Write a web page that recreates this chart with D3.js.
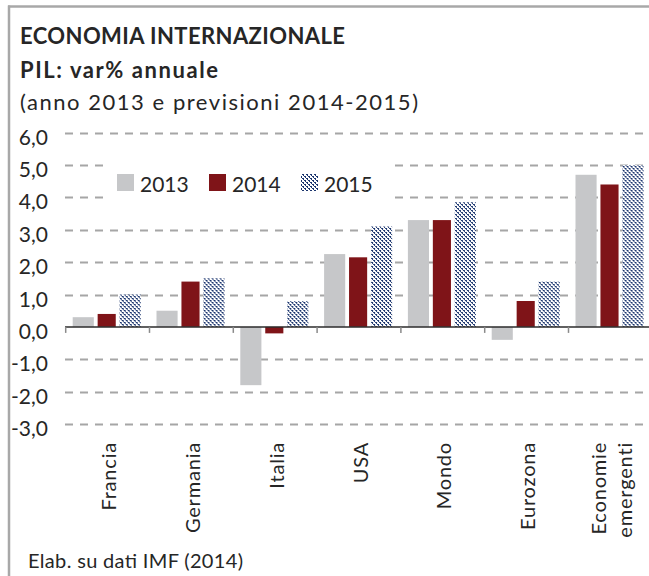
<!DOCTYPE html>
<html>
<head>
<meta charset="utf-8">
<script src="https://cdn.jsdelivr.net/npm/d3@7"></script>
<style>
  html, body { margin: 0; padding: 0; background: #fff; }
  svg { display: block; }
  text { font-family: Lato, "Noto Sans", sans-serif; fill: #262626; }
</style>
</head>
<body>
<svg id="chart" width="649" height="576"></svg>
<script>
// GDP annual % change by area: 2013 actual, 2014-2015 forecasts
const categories = ["Francia", "Germania", "Italia", "USA", "Mondo", "Eurozona", "Economie\nemergenti"];
const series = ["2013", "2014", "2015"];
const values2013 = [0.3, 0.5, -1.8, 2.25, 3.3, -0.4, 4.7];
const values2014 = [0.4, 1.4, -0.2, 2.15, 3.3, 0.8, 4.4];
const values2015 = [1.0, 1.5, 0.8, 3.1, 3.85, 1.4, 5.0];
const yTicks = [-3, -2, -1, 0, 1, 2, 3, 4, 5, 6];
const titleText = "ECONOMIA INTERNAZIONALE";
const subtitleText = "PIL: var% annuale";
const noteText = "(anno 2013 e previsioni 2014-2015)";
const sourceText = "Elab. su dati IMF (2014)";

const seriesValues = { "2013": values2013, "2014": values2014, "2015": values2015 };

const svg = d3.select("#chart");
const W = 649, H = 576;

// dotted diagonal hatch for the forecast year
const defs = svg.append("defs");
const pat = defs.append("pattern")
  .attr("id", "hatch").attr("patternUnits", "userSpaceOnUse")
  .attr("width", 4).attr("height", 4);
pat.append("rect").attr("width", 4).attr("height", 4).attr("fill", "#fff");
for (let py = 0; py < 4; py++) {
  for (let px = 0; px < 4; px++) {
    const k = ((px - py) % 4 + 4) % 4;
    if (k === 0 || (k === 1 && py % 2 === 0)) {
      pat.append("rect").attr("x", px).attr("y", py).attr("width", 1).attr("height", 1)
        .attr("fill", "#1b356e").attr("shape-rendering", "crispEdges");
    }
  }
}

const fills = { "2013": "#c6c7c9", "2014": "#7f1418", "2015": "url(#hatch)" };
const barInset = { "2013": 0, "2014": 1.5, "2015": 0 };

// frame
svg.append("line").attr("x1", 8).attr("x2", W).attr("y1", 6.5).attr("y2", 6.5)
  .attr("stroke", "#a8a8a8").attr("stroke-width", 2.5);
svg.append("line").attr("x1", 9).attr("x2", 9).attr("y1", 5.5).attr("y2", H)
  .attr("stroke", "#a8a8a8").attr("stroke-width", 2.5);

// titles
svg.append("text").attr("x", 20).attr("y", 44).attr("font-weight", 700)
  .attr("font-size", 22).attr("textLength", 325).attr("lengthAdjust", "spacing").text(titleText);
svg.append("text").attr("x", 20).attr("y", 78).attr("font-weight", 700)
  .attr("font-size", 22).attr("textLength", 198).attr("lengthAdjust", "spacing").text(subtitleText);
svg.append("text").attr("x", 20).attr("y", 110)
  .attr("font-size", 22).attr("textLength", 398).attr("lengthAdjust", "spacing").text(noteText);

// scales
const x0 = d3.scaleBand().domain(categories).range([65.7, 652.3]).padding(0);
const x1 = d3.scaleBand().domain(series).range([7, 75]).paddingInner(0.1).paddingOuter(0);
const y = d3.scaleLinear().domain([-3, 6]).range([424, 132.7]);

// dashed gridlines
const grid = svg.append("g");
grid.selectAll("line").data(yTicks.filter(t => t !== 0)).join("line")
  .attr("x1", 65).attr("x2", W)
  .attr("y1", d => Math.round(y(d)) + 0.5).attr("y2", d => Math.round(y(d)) + 0.5)
  .attr("stroke", "#a6a6a6").attr("stroke-width", 2).attr("stroke-dasharray", "8,7");

// y axis labels
const yAxis = d3.axisLeft(y).tickValues(yTicks)
  .tickFormat(d => d3.format(".1f")(d).replace(".", ",").replace("−", "-"))
  .tickSize(0).tickPadding(0);
const yg = svg.append("g").attr("transform", "translate(48,0)").call(yAxis);
yg.select(".domain").remove();
yg.selectAll("text").attr("font-size", 21).attr("fill", "#262626")
  .attr("font-family", "Lato, sans-serif").attr("dy", "0.55em");

// legend background box
svg.append("rect").attr("x", 104).attr("y", 142).attr("width", 284).attr("height", 63).attr("fill", "#fff");

// bars
const groups = svg.append("g").selectAll("g").data(categories).join("g")
  .attr("transform", d => `translate(${x0(d)},0)`);
groups.selectAll("rect")
  .data((c, i) => series.map(s => ({ s, v: seriesValues[s][i] })))
  .join("rect")
  .attr("x", d => x1(d.s) + barInset[d.s])
  .attr("width", d => x1.bandwidth() - 2 * barInset[d.s])
  .attr("y", d => y(Math.max(0, d.v)))
  .attr("height", d => Math.abs(y(d.v) - y(0)))
  .attr("fill", d => fills[d.s]);

// category axis at zero
const xAxis = d3.axisBottom(x0).tickSize(0).tickFormat("");
const xg = svg.append("g").attr("transform", `translate(0,${y(0)})`).call(xAxis);
xg.select(".domain").remove();
svg.append("line").attr("x1", 65).attr("x2", W).attr("y1", y(0)).attr("y2", y(0))
  .attr("stroke", "#2b2b2b").attr("stroke-width", 1.5);
svg.append("g").selectAll("line").data(categories).join("line")
  .attr("x1", d => x0(d)).attr("x2", d => x0(d))
  .attr("y1", y(0)).attr("y2", y(0) + 6)
  .attr("stroke", "#8a8a8a").attr("stroke-width", 1.5);

// rotated category labels
const lab = svg.append("g").selectAll("text").data(categories).join("text")
  .attr("transform", d => `translate(${x0(d) + x0.bandwidth() / 2},442) rotate(-90)`)
  .attr("text-anchor", "end").attr("font-size", 20).attr("letter-spacing", 0.8);
lab.each(function (d) {
  const lines = d.split("\n");
  const t = d3.select(this);
  lines.forEach((ln, i) => {
    t.append("tspan").attr("x", 0)
      .attr("dy", lines.length === 1 ? 8.5 : (i === 0 ? -4.5 : 26))
      .text(ln);
  });
});

// legend
const leg = svg.append("g");
const legX = [117, 209, 301];
series.forEach((s, i) => {
  leg.append("rect").attr("x", legX[i]).attr("y", 174).attr("width", 17).attr("height", 17).attr("fill", fills[s]);
  leg.append("text").attr("x", legX[i] + 23).attr("y", 192).attr("font-size", 21).text(s);
});

// source note
svg.append("text").attr("x", 28).attr("y", 568).attr("font-size", 20)
  .attr("textLength", 215).attr("lengthAdjust", "spacing").text(sourceText);
</script>
</body>
</html>
